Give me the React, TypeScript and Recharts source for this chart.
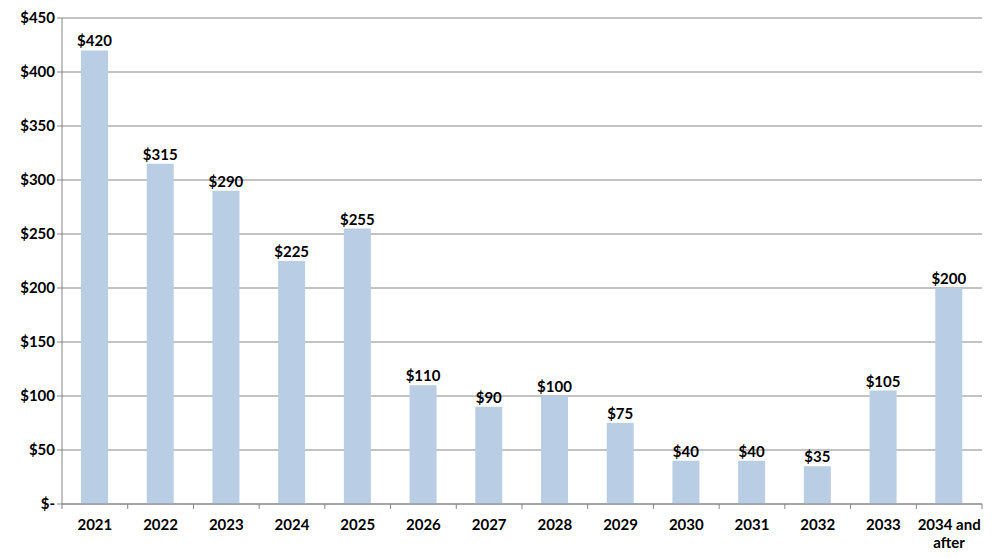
import { Bar, BarChart, CartesianGrid, LabelList, Text, XAxis, YAxis } from "recharts";

const years = ["2021", "2022", "2023", "2024", "2025", "2026", "2027", "2028", "2029", "2030", "2031", "2032", "2033", "2034 and after"];
const amounts = [420, 315, 290, 225, 255, 110, 90, 100, 75, 40, 40, 35, 105, 200];
const yTicks = [0, 50, 100, 150, 200, 250, 300, 350, 400, 450];

const data = years.map((year, i) => ({ year, amount: amounts[i] }));

const W = 996;
const H = 558;
const margin = { top: 18, right: 14, bottom: 4, left: 7 };
const yWidth = 55;
const band = (W - margin.left - margin.right - yWidth) / years.length;
const font = "Lato, 'Liberation Sans', sans-serif";

function YearTick(props: any) {
  const { x, y, payload, index } = props;
  const half = band / 2;
  return (
    <g>
      <line x1={x - half} x2={x - half} y1={y - 8} y2={y - 3} stroke="#868686" />
      {index === years.length - 1 && (
        <line x1={x + half} x2={x + half} y1={y - 8} y2={y - 3} stroke="#868686" />
      )}
      <Text
        x={x}
        y={y + 7}
        width={band - 2}
        lineHeight="1.25em"
        textAnchor="middle"
        verticalAnchor="start"
        fontFamily={font}
        fontWeight="bold"
        fontSize={15}
        fill="#000"
      >
        {payload.value}
      </Text>
    </g>
  );
}

export default function App() {
  return (
    <div style={{ position: "absolute", left: 0, top: 0, width: W, height: H, background: "#fff" }}>
      <BarChart width={W} height={H} data={data} margin={margin}>
        <CartesianGrid stroke="#868686" vertical={false} />
        <XAxis
          dataKey="year"
          interval={0}
          tickLine={false}
          axisLine={{ stroke: "#868686" }}
          tick={<YearTick />}
          height={50}
        />
        <YAxis
          domain={[0, 450]}
          ticks={yTicks}
          width={yWidth}
          axisLine={{ stroke: "#868686" }}
          tickLine={{ stroke: "#868686" }}
          tickSize={5}
          tickFormatter={(v: number) => (v === 0 ? "$-" : `$${v}`)}
          tick={{ fontFamily: font, fontWeight: "bold", fontSize: 15, fill: "#000" }}
        />
        <Bar dataKey="amount" fill="#B9CDE5" barSize={27} isAnimationActive={false}>
          <LabelList
            dataKey="amount"
            position="top"
            offset={4}
            formatter={(v: any) => `$${v}`}
            style={{ fontFamily: font, fontWeight: "bold", fontSize: 15, fill: "#000" }}
          />
        </Bar>
      </BarChart>
    </div>
  );
}
